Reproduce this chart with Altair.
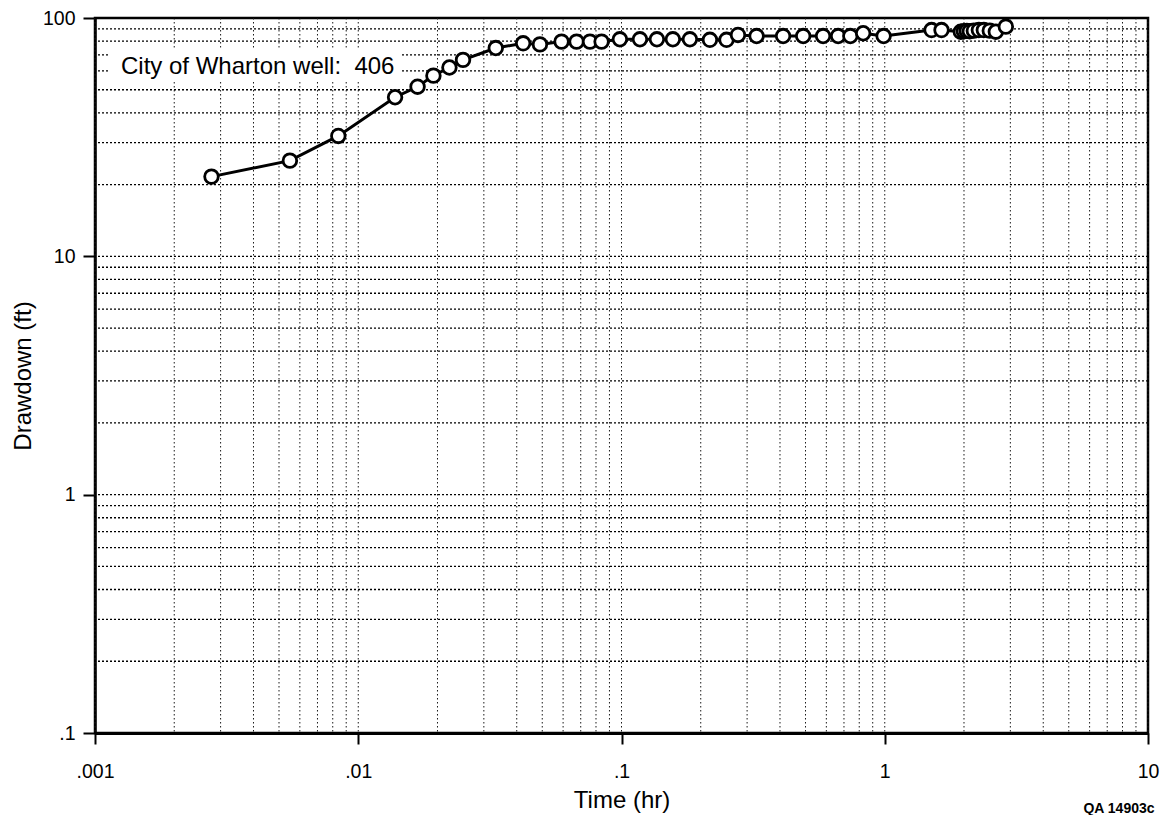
import altair as alt
import pandas as pd

# ---- data ----
time_hr = [0.00277, 0.0055, 0.0084, 0.0138, 0.0168, 0.0193, 0.0222, 0.025,
           0.0333, 0.0423, 0.049, 0.0592, 0.0675, 0.0759, 0.084,
           0.0986, 0.1175, 0.1363, 0.1567, 0.1819, 0.2167, 0.2506, 0.277,
           0.326, 0.411, 0.49, 0.583, 0.665, 0.74, 0.828, 0.99,
           1.506, 1.643, 1.945, 1.997, 2.05, 2.104, 2.18, 2.278, 2.379,
           2.506, 2.642, 2.884]
drawdown_ft = [21.6, 25.2, 32.0, 46.5, 51.5, 57.3, 62.0, 66.7,
               74.8, 78.3, 77.5, 79.6, 79.6, 79.6, 79.6,
               81.4, 81.4, 81.4, 81.4, 81.4, 81.0, 81.0, 84.9,
               84.0, 84.0, 84.0, 84.0, 84.0, 84.0, 86.3, 84.0,
               89.0, 89.0, 87.6, 88.0, 88.3, 88.0, 88.5, 89.0, 89.0,
               88.5, 87.6, 92.0]

x_tick_values = [0.001, 0.01, 0.1, 1, 10]
x_tick_labels = [".001", ".01", ".1", "1", "10"]
y_tick_values = [0.1, 1, 10, 100]
y_tick_labels = [".1", "1", "10", "100"]

x_grid = [m * 10.0 ** e for e in range(-3, 1) for m in range(1, 10)] + [10]
y_grid = [m * 10.0 ** e for e in range(-1, 2) for m in range(1, 10)] + [100]

annotation = "City of Wharton well:\u00a0 406"
figure_id = "QA 14903c"
x_title = "Time (hr)"
y_title = "Drawdown (ft)"

FONT = "Liberation Sans"


def label_expr(values, labels):
    expr = "''"
    for v, l in zip(reversed(values), reversed(labels)):
        expr = f"abs(datum.value - {v}) < {v}*1e-6 ? '{l}' : ({expr})"
    return expr


xscale = alt.Scale(type="log", domain=[0.001, 10], nice=False)
yscale = alt.Scale(type="log", domain=[0.1, 100], nice=False)

xaxis = alt.Axis(values=x_tick_values, labelExpr=label_expr(x_tick_values, x_tick_labels),
                 grid=False, tickSize=11, tickWidth=2, tickColor="black",
                 domainColor="black", domainWidth=3,
                 labelFont=FONT, labelFontSize=19.5, labelColor="black",
                 labelPadding=18, labelBaseline="top", labelFlush=False,
                 title=x_title, titleFont=FONT, titleFontSize=24,
                 titleFontWeight="normal", titleColor="black",
                 titleY=67, titleBaseline="middle")
yaxis = alt.Axis(values=y_tick_values, labelExpr=label_expr(y_tick_values, y_tick_labels),
                 grid=False, tickSize=12, tickWidth=2, tickColor="black",
                 domainColor="black", domainWidth=2.5,
                 labelFont=FONT, labelFontSize=19.5, labelColor="black",
                 labelPadding=8, labelBaseline="middle", labelFlush=False,
                 title=y_title, titleFont=FONT, titleFontSize=24,
                 titleFontWeight="normal", titleColor="black",
                 titleX=-72, titleBaseline="middle")

df = pd.DataFrame({"time": time_hr, "drawdown": drawdown_ft})
gx = pd.DataFrame({"time": x_grid})
gy = pd.DataFrame({"drawdown": y_grid})

vgrid = alt.Chart(gx).mark_rule(color="#1a1a1a", strokeWidth=1, strokeDash=[1.5, 2.5]).encode(
    x=alt.X("time:Q", scale=xscale, axis=xaxis))
hgrid = alt.Chart(gy).mark_rule(color="#000000", strokeWidth=1.3, strokeDash=[2, 2]).encode(
    y=alt.Y("drawdown:Q", scale=yscale, axis=yaxis))

label_box = alt.Chart(pd.DataFrame({"t": [annotation]})).mark_rect(color="white").encode(
    x=alt.value(13), x2=alt.value(306), y=alt.value(31), y2=alt.value(63))
label_text = alt.Chart(pd.DataFrame({"t": [annotation]})).mark_text(
    font=FONT, fontSize=24, align="left", baseline="alphabetic", color="black").encode(
    x=alt.value(26), y=alt.value(55.5), text="t:N")
fig_text = alt.Chart(pd.DataFrame({"t": [figure_id]})).mark_text(
    font=FONT, fontSize=14, fontWeight="bold", align="center", baseline="middle", color="black").encode(
    x=alt.value(1024), y=alt.value(791), text="t:N")

line = alt.Chart(df).mark_line(color="black", strokeWidth=3).encode(
    x=alt.X("time:Q", scale=xscale, axis=xaxis),
    y=alt.Y("drawdown:Q", scale=yscale, axis=yaxis))
points = alt.Chart(df).mark_point(shape="circle", filled=True, fill="white", stroke="black",
                                  strokeWidth=2.8, size=185, opacity=1).encode(
    x=alt.X("time:Q", scale=xscale, axis=xaxis),
    y=alt.Y("drawdown:Q", scale=yscale, axis=yaxis))

chart = alt.layer(vgrid, hgrid, label_box, label_text, line, points, fig_text).properties(
    width=1053, height=715,
    autosize=alt.AutoSizeParams(type="none"),
    padding={"left": 87, "top": 10, "right": 14, "bottom": 82},
    background="white",
).configure_view(stroke="black", strokeWidth=2.5)

chart.save("out.html", embed_options={"renderer": "svg", "actions": False})
